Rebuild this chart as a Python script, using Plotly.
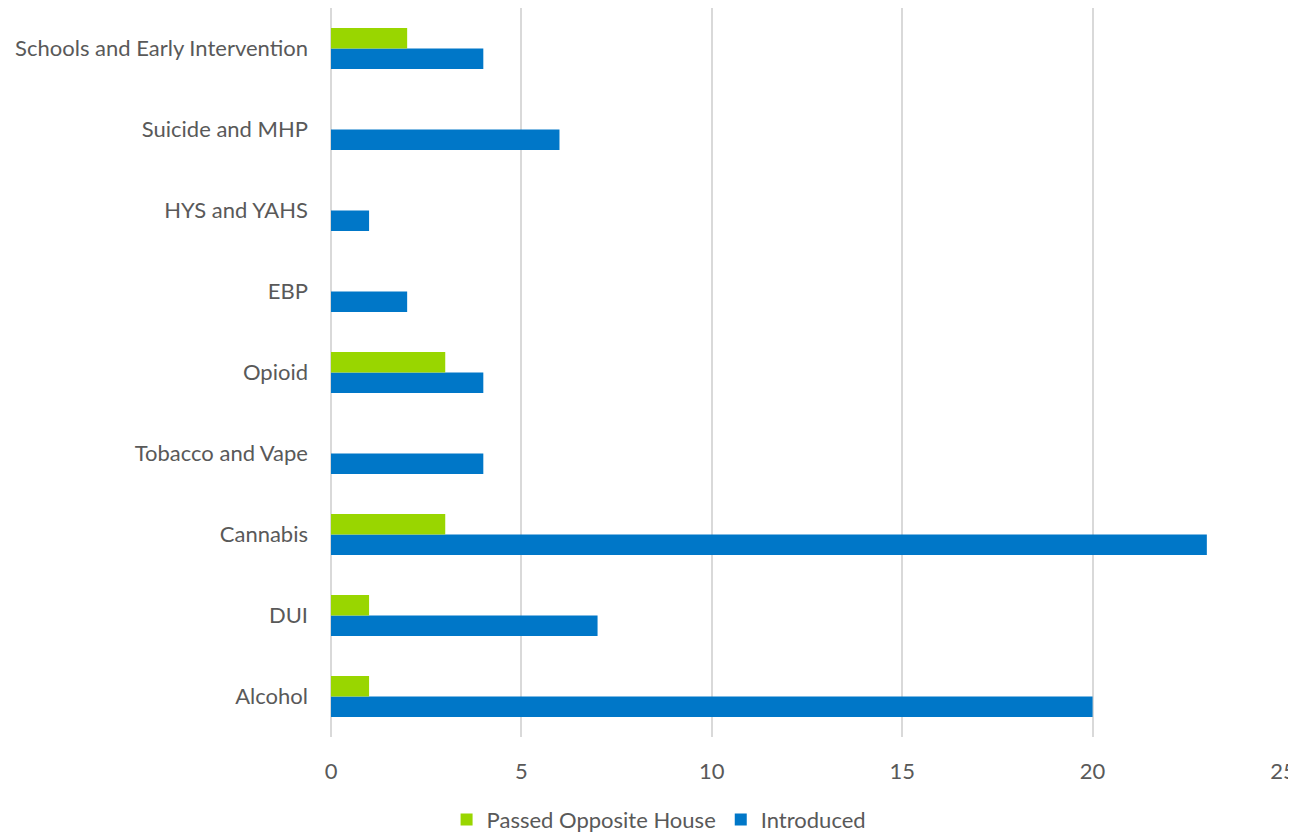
import plotly.graph_objects as go

categories = ["Alcohol", "DUI", "Cannabis", "Tobacco and Vape", "Opioid", "EBP",
              "HYS and YAHS", "Suicide and MHP", "Schools and Early Intervention"]
introduced = [20, 7, 23, 4, 4, 2, 1, 6, 4]
passed = [1, 1, 3, 0, 3, 0, 0, 0, 2]
x_ticks = [0, 5, 10, 15, 20, 25]

FONT = "Lato"
TEXT = "#595959"
FS = 22

fig = go.Figure()
fig.add_trace(go.Bar(y=categories, x=introduced, name="Introduced", orientation="h",
                     marker=dict(color="#0077C8", line=dict(width=0)), legendrank=2))
fig.add_trace(go.Bar(y=categories, x=passed, name="Passed Opposite House", orientation="h",
                     marker=dict(color="#99D600", line=dict(width=0)), legendrank=1))

fig.update_layout(
    width=1288, height=825,
    margin=dict(l=323, r=5, t=0, b=96),
    barmode="group", bargap=0.494, bargroupgap=0,
    plot_bgcolor="white", paper_bgcolor="white",
    font=dict(family=FONT, size=FS, color=TEXT),
    showlegend=True,
    legend=dict(orientation="h", xref="container", yref="container",
                x=0.5055, xanchor="center", y=0.016, yanchor="middle",
                font=dict(size=FS, color=TEXT), itemwidth=30, tracegroupgap=0,
                traceorder="normal"),
    xaxis=dict(range=[0, 25], tickvals=x_ticks, showgrid=True, gridcolor="#D9D9D9",
               gridwidth=1.5, zeroline=True, zerolinecolor="#D9D9D9", zerolinewidth=1.5,
               showline=False, ticks="", ticklabelstandoff=19, ticklabeloverflow="allow",
               tickfont=dict(size=FS, color=TEXT)),
    yaxis=dict(categoryorder="array", categoryarray=categories, showgrid=False,
               showline=False, ticks="", ticklabelstandoff=22,
               tickfont=dict(size=FS, color=TEXT)),
)

fig.write_html("out.html")
